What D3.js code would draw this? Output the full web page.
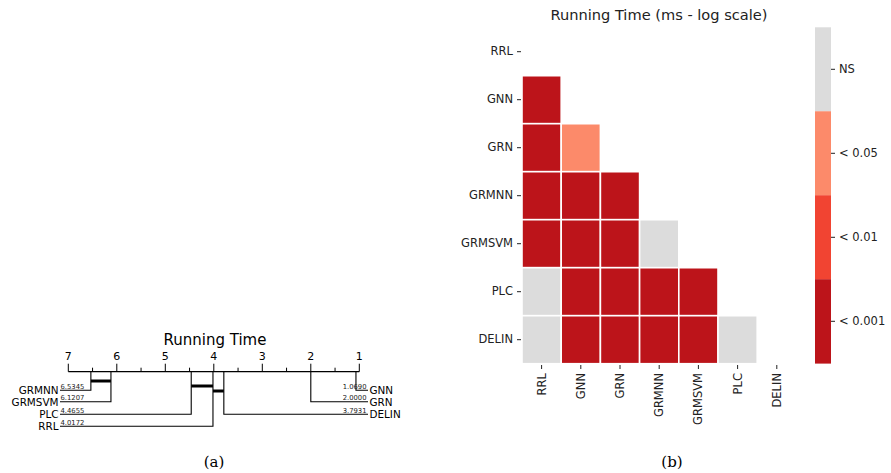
<!DOCTYPE html>
<html>
<head>
<meta charset="utf-8">
<script src="https://cdn.jsdelivr.net/npm/d3@7"></script>
<style>
  body { margin: 0; background: #fff; }
  svg { display: block; font-family: "DejaVu Sans", sans-serif; }
</style>
</head>
<body>
<div id="chart"></div>
<script>
// left panel: critical difference diagram
var cdNames = ["GNN", "GRN", "DELIN", "RRL", "PLC", "GRMSVM", "GRMNN"];
var cdRanks = [1.0690, 2.0000, 3.7931, 4.0172, 4.4655, 6.1207, 6.5345];
var cdCliques = [["GRMSVM", "GRMNN"], ["RRL", "PLC"], ["DELIN", "RRL"]];
var cdTicks = [1, 2, 3, 4, 5, 6, 7];

// right panel: pairwise significance heatmap (lower triangle)
var methods = ["RRL", "GNN", "GRN", "GRMNN", "GRMSVM", "PLC", "DELIN"];
var levels = ["NS", "< 0.05", "< 0.01", "< 0.001"];
var levelColors = ["#dcdcdc", "#fc8a6a", "#f14432", "#bc141a"];
// row i holds the levels vs methods[0..i-1]
var sigRows = [
  [],
  [3],
  [3, 1],
  [3, 3, 3],
  [3, 3, 3, 0],
  [0, 3, 3, 3, 3],
  [0, 3, 3, 3, 3, 0]
];

var W = 891, H = 473;
var svg = d3.select("#chart").append("svg").attr("width", W).attr("height", H);

// ---------- (a) CD diagram ----------
var rankX = d3.scaleLinear().domain([7, 1]).range([68.3, 359.3]);
var axisY = 371.7;
var cd = svg.append("g");

cd.append("text").attr("x", 215).attr("y", 345).attr("text-anchor", "middle")
  .attr("font-size", 15).text("Running Time");

cd.append("line").attr("x1", rankX(7)).attr("x2", rankX(1))
  .attr("y1", axisY).attr("y2", axisY).attr("stroke", "#000").attr("stroke-width", 1.2);

d3.range(1, 7.01, 0.5).forEach(function (r) {
  var major = r % 1 === 0;
  cd.append("line").attr("x1", rankX(r)).attr("x2", rankX(r))
    .attr("y1", axisY).attr("y2", axisY - (major ? 8 : 4))
    .attr("stroke", "#000").attr("stroke-width", 1);
});
cd.selectAll(".tl").data(cdTicks).enter().append("text")
  .attr("x", function (d) { return rankX(d); }).attr("y", 360)
  .attr("text-anchor", "middle").attr("font-size", 11).text(function (d) { return d; });

var rowY = [390.3, 401.8, 414.2, 426.2];
var n = cdNames.length;
cdNames.forEach(function (name, i) {
  var r = cdRanks[i];
  var x = rankX(r);
  var left = i >= 3;           // worst four go on the left
  var yi = left ? (n - 1 - i) : i;
  var y = rowY[yi];
  var endX = left ? 60 : 368;
  cd.append("path")
    .attr("d", "M" + x + "," + axisY + "V" + y + "H" + endX)
    .attr("fill", "none").attr("stroke", "#000").attr("stroke-width", 1.1);
  cd.append("text").attr("x", left ? endX - 1.5 : endX + 1.5).attr("y", y + 4)
    .attr("text-anchor", left ? "end" : "start").attr("font-size", 10.4).text(name);
  cd.append("text").attr("x", left ? endX + 0.5 : endX - 1.5).attr("y", y - 1.5)
    .attr("text-anchor", left ? "start" : "end").attr("font-size", 6.8).attr("fill", "#222")
    .text(r.toFixed(4));
});

var cliqueY = [381, 386, 391];
cdCliques.forEach(function (c, k) {
  var a = cdRanks[cdNames.indexOf(c[0])], b = cdRanks[cdNames.indexOf(c[1])];
  cd.append("line").attr("x1", rankX(Math.max(a, b))).attr("x2", rankX(Math.min(a, b)))
    .attr("y1", cliqueY[k]).attr("y2", cliqueY[k]).attr("stroke", "#000").attr("stroke-width", 3);
});

svg.append("text").attr("x", 214).attr("y", 467).attr("text-anchor", "middle")
  .attr("font-family", "'DejaVu Serif', serif").attr("font-size", 15).text("(a)");

// ---------- (b) heatmap ----------
var hx = d3.scaleBand().domain(methods).range([522, 796.4]);
var hy = d3.scaleBand().domain(methods).range([27.7, 363.7]);
var hm = svg.append("g");

hm.append("text").attr("x", 659).attr("y", 20).attr("text-anchor", "middle")
  .attr("font-size", 14.6).attr("fill", "#222").text("Running Time (ms - log scale)");

var cells = [];
sigRows.forEach(function (row, i) {
  row.forEach(function (lv, j) { cells.push({ r: methods[i], c: methods[j], lv: lv }); });
});
hm.selectAll("rect.cell").data(cells).enter().append("rect")
  .attr("x", function (d) { return hx(d.c); }).attr("y", function (d) { return hy(d.r); })
  .attr("width", hx.bandwidth()).attr("height", hy.bandwidth())
  .attr("fill", function (d) { return levelColors[d.lv]; })
  .attr("stroke", "#fff").attr("stroke-width", 1.6);

var yAx = hm.append("g").attr("transform", "translate(521,0)")
  .call(d3.axisLeft(hy).tickSize(4).tickPadding(4));
var xAx = hm.append("g").attr("transform", "translate(0,365)")
  .call(d3.axisBottom(hx).tickSize(4).tickPadding(4));
[yAx, xAx].forEach(function (g) {
  g.select(".domain").remove();
  g.selectAll("text").attr("font-size", 11.5).attr("font-family", "'DejaVu Sans', sans-serif").attr("fill", "#222");
  g.selectAll(".tick line").attr("stroke", "#222");
});
xAx.selectAll("text").attr("transform", "rotate(-90)").attr("text-anchor", "end")
  .attr("x", -8).attr("y", 0).attr("dy", "0.35em");

// colour bar, NS on top
var cb = d3.scaleBand().domain(levels).range([27.3, 363.3]);
var cbar = hm.append("g");
cbar.selectAll("rect").data(levels).enter().append("rect")
  .attr("x", 815).attr("width", 16)
  .attr("y", function (d) { return cb(d); }).attr("height", cb.bandwidth() + 0.3)
  .attr("fill", function (d, i) { return levelColors[i]; });
var cAx = cbar.append("g").attr("transform", "translate(831,0)")
  .call(d3.axisRight(cb).tickSize(4).tickPadding(4));
cAx.select(".domain").remove();
cAx.selectAll("text").attr("font-size", 11.5).attr("font-family", "'DejaVu Sans', sans-serif").attr("fill", "#222");
cAx.selectAll(".tick line").attr("stroke", "#222");

svg.append("text").attr("x", 672).attr("y", 467).attr("text-anchor", "middle")
  .attr("font-family", "'DejaVu Serif', serif").attr("font-size", 15).text("(b)");
</script>
</body>
</html>
